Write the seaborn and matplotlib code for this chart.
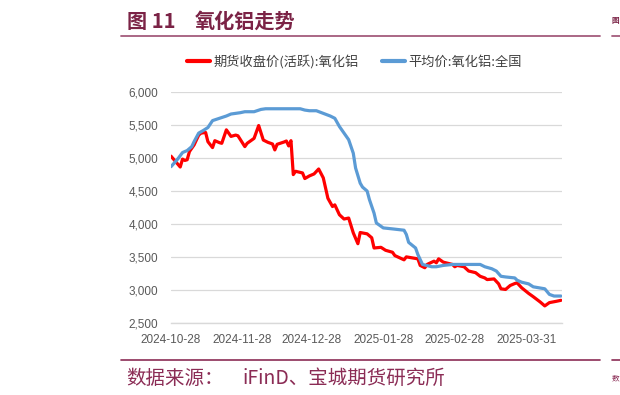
import matplotlib
matplotlib.use('Agg')
import matplotlib.pyplot as plt
import seaborn as sns
import pandas as pd
from matplotlib.ticker import FuncFormatter, FixedLocator
from matplotlib.lines import Line2D

# ---------------- data ----------------
futures_dates = [
    "2024-10-28", "2024-11-01", "2024-11-02", "2024-11-03", "2024-11-04", "2024-11-05",
    "2024-11-07", "2024-11-09", "2024-11-10", "2024-11-12", "2024-11-13", "2024-11-15",
    "2024-11-16", "2024-11-18", "2024-11-19", "2024-11-21", "2024-11-23", "2024-11-25",
    "2024-11-26", "2024-11-29", "2024-11-30", "2024-12-03", "2024-12-05", "2024-12-07",
    "2024-12-09", "2024-12-11", "2024-12-12", "2024-12-13", "2024-12-16", "2024-12-17",
    "2024-12-18", "2024-12-19", "2024-12-20", "2024-12-21", "2024-12-24", "2024-12-25",
    "2024-12-27", "2024-12-29", "2024-12-31", "2025-01-02", "2025-01-04", "2025-01-06",
    "2025-01-07", "2025-01-09", "2025-01-11", "2025-01-13", "2025-01-15", "2025-01-17",
    "2025-01-18", "2025-01-21", "2025-01-23", "2025-01-24", "2025-01-27", "2025-01-29",
    "2025-02-01", "2025-02-02", "2025-02-06", "2025-02-07", "2025-02-12", "2025-02-13",
    "2025-02-15", "2025-02-16", "2025-02-19", "2025-02-20", "2025-02-21", "2025-02-23",
    "2025-02-27", "2025-02-28", "2025-03-01", "2025-03-04", "2025-03-06", "2025-03-09",
    "2025-03-11", "2025-03-13", "2025-03-14", "2025-03-17", "2025-03-19", "2025-03-20",
    "2025-03-22", "2025-03-24", "2025-03-26", "2025-03-27", "2025-03-29", "2025-04-01",
    "2025-04-03", "2025-04-06", "2025-04-08", "2025-04-10", "2025-04-13", "2025-04-15",
]
futures_values = [
    5030, 4865, 4985, 4965, 4975, 5100,
    5200, 5350, 5380, 5390, 5250, 5160,
    5265, 5235, 5225, 5430, 5330, 5350,
    5340, 5175, 5225, 5300, 5495, 5275,
    5240, 5215, 5125, 5210, 5245, 5260,
    5185, 5265, 4750, 4800, 4775, 4690,
    4730, 4760, 4835, 4700, 4390, 4265,
    4290, 4140, 4075, 4090, 3865, 3700,
    3870, 3850, 3790, 3635, 3645, 3600,
    3570, 3520, 3455, 3500, 3470, 3370,
    3335, 3385, 3435, 3410, 3470, 3420,
    3385, 3350, 3370, 3350, 3285, 3260,
    3205, 3180, 3155, 3165, 3090, 3015,
    3005, 3065, 3095, 3105, 3030, 2945,
    2895, 2815, 2755, 2805, 2825, 2840,
]

avg_dates = [
    "2024-10-28", "2024-10-31", "2024-11-02", "2024-11-04", "2024-11-06", "2024-11-07",
    "2024-11-09", "2024-11-11", "2024-11-13", "2024-11-15", "2024-11-18", "2024-11-21",
    "2024-11-23", "2024-11-27", "2024-11-29", "2024-12-03", "2024-12-06", "2024-12-08",
    "2024-12-23", "2024-12-25", "2024-12-27", "2024-12-30", "2025-01-02", "2025-01-05",
    "2025-01-07", "2025-01-09", "2025-01-11", "2025-01-13", "2025-01-15", "2025-01-16",
    "2025-01-18", "2025-01-19", "2025-01-21", "2025-01-22", "2025-01-24", "2025-01-25",
    "2025-01-28", "2025-02-01", "2025-02-06", "2025-02-07", "2025-02-08", "2025-02-11",
    "2025-02-12", "2025-02-14", "2025-02-18", "2025-02-20", "2025-02-23", "2025-02-27",
    "2025-03-11", "2025-03-13", "2025-03-16", "2025-03-18", "2025-03-20", "2025-03-22",
    "2025-03-26", "2025-03-27", "2025-03-29", "2025-04-01", "2025-04-03", "2025-04-08",
    "2025-04-10", "2025-04-12", "2025-04-15",
]
avg_values = [
    4870, 4990, 5085, 5115, 5175, 5250,
    5380, 5420, 5465, 5570, 5605, 5640,
    5670, 5690, 5705, 5705, 5740, 5750,
    5750, 5730, 5720, 5720, 5680, 5640,
    5605, 5480, 5380, 5280, 5075, 4850,
    4620, 4560, 4500, 4370, 4165, 4015,
    3940, 3925, 3905, 3840, 3720, 3635,
    3535, 3385, 3350, 3350, 3370, 3385,
    3385, 3350, 3320, 3285, 3205, 3195,
    3180, 3145, 3115, 3090, 3045, 3015,
    2930, 2905, 2905,
]

series_names = ["期货收盘价(活跃):氧化铝", "平均价:氧化铝:全国"]
series_colors = ["#FF0000", "#5B9BD5"]
x_tick_dates = ["2024-10-28", "2024-11-28", "2024-12-28", "2025-01-28", "2025-02-28", "2025-03-31"]
y_ticks = [2500, 3000, 3500, 4000, 4500, 5000, 5500, 6000]

title_num = "图 11"
title_text = "氧化铝走势"
source_head = "数据来源："
source_body = "iFinD、宝城期货研究所"

# ---------------- build ----------------
sns.set_theme(style="white")
plt.rcParams['font.family'] = ['Noto Sans CJK SC', 'DejaVu Sans']

df = pd.concat([
    pd.DataFrame({"date": pd.to_datetime(futures_dates), "value": futures_values, "series": series_names[0]}),
    pd.DataFrame({"date": pd.to_datetime(avg_dates), "value": avg_values, "series": series_names[1]}),
], ignore_index=True)

W, H = 620, 395
fig = plt.figure(figsize=(W / 100, H / 100), dpi=100)
fig.patch.set_facecolor("white")

ax_left, ax_right, ax_top, ax_bot = 171, 561.7, 92.3, 322.7
ax = fig.add_axes([ax_left / W, 1 - ax_bot / H, (ax_right - ax_left) / W, (ax_bot - ax_top) / H])

sns.lineplot(data=df, x="date", y="value", hue="series", hue_order=series_names,
             palette=series_colors, linewidth=2.3, estimator=None, sort=False,
             legend=False, ax=ax)

ax.set_xlim(pd.Timestamp("2024-10-28"), pd.Timestamp("2025-04-15 08:00"))
ax.set_ylim(y_ticks[0], y_ticks[-1])
ax.yaxis.set_major_locator(FixedLocator(y_ticks))
ax.yaxis.set_major_formatter(FuncFormatter(lambda v, p: f"{int(v):,}"))
ax.set_xticks(pd.to_datetime(x_tick_dates))
ax.set_xticklabels(x_tick_dates)
ax.set_xlabel("")
ax.set_ylabel("")

ax.grid(axis="y", color="#D9D9D9", linewidth=0.9)
ax.grid(axis="x", visible=False)
ax.set_axisbelow(True)
for s in ["left", "top", "right"]:
    ax.spines[s].set_visible(False)
ax.spines["bottom"].set_color("#D9D9D9")
ax.spines["bottom"].set_linewidth(1.0)

ax.tick_params(axis="x", length=4, width=0.9, color="#D9D9D9", direction="out",
               labelsize=8.5, labelcolor="#595959", pad=4)
ax.tick_params(axis="y", length=0, labelsize=8.5, labelcolor="#595959", pad=9)
for lab in ax.get_xticklabels() + ax.get_yticklabels():
    lab.set_fontfamily("Liberation Sans")

# legend
handles = [Line2D([0], [0], color=c, linewidth=3) for c in series_colors]
leg = fig.legend(handles=handles, labels=series_names, loc="center left",
                 bbox_to_anchor=(187 / W, 1 - 62 / H), ncol=2, frameon=False,
                 handlelength=1.75, handletextpad=0.25, columnspacing=1.8,
                 borderpad=0, borderaxespad=0, fontsize=9.5)
for t in leg.get_texts():
    t.set_color("#404040")

# title and separators
title_color = "#7B2346"
fig.text(127 / W, 1 - 21 / H, title_num, fontsize=14.5, fontweight="bold",
         color=title_color, ha="left", va="center")
fig.text(195 / W, 1 - 21 / H, title_text, fontsize=14.5, fontweight="bold",
         color=title_color, ha="left", va="center")
fig.add_artist(Line2D([121 / W, 600 / W], [1 - 36 / H, 1 - 36 / H], color="#A45C7C", linewidth=1.3))
fig.add_artist(Line2D([612 / W, 1.0], [1 - 36 / H, 1 - 36 / H], color="#A45C7C", linewidth=1.3))
fig.text(612 / W, 1 - 21 / H, "图", fontsize=5.5, fontweight="bold",
         color=title_color, ha="left", va="center")

fig.add_artist(Line2D([121 / W, 600 / W], [1 - 360 / H, 1 - 360 / H], color="#8B2C55", linewidth=1.2))
fig.add_artist(Line2D([612 / W, 1.0], [1 - 360 / H, 1 - 360 / H], color="#8B2C55", linewidth=1.2))
src_color = "#8B2C55"
fig.text(126 / W, 1 - 378 / H, source_head, fontsize=14, color=src_color, ha="left", va="center")
fig.text(243 / W, 1 - 378 / H, source_body, fontsize=14, color=src_color, ha="left", va="center")
fig.text(612 / W, 1 - 378 / H, "数", fontsize=5.5, color=src_color, ha="left", va="center")

fig.savefig("out.png", dpi=100)
